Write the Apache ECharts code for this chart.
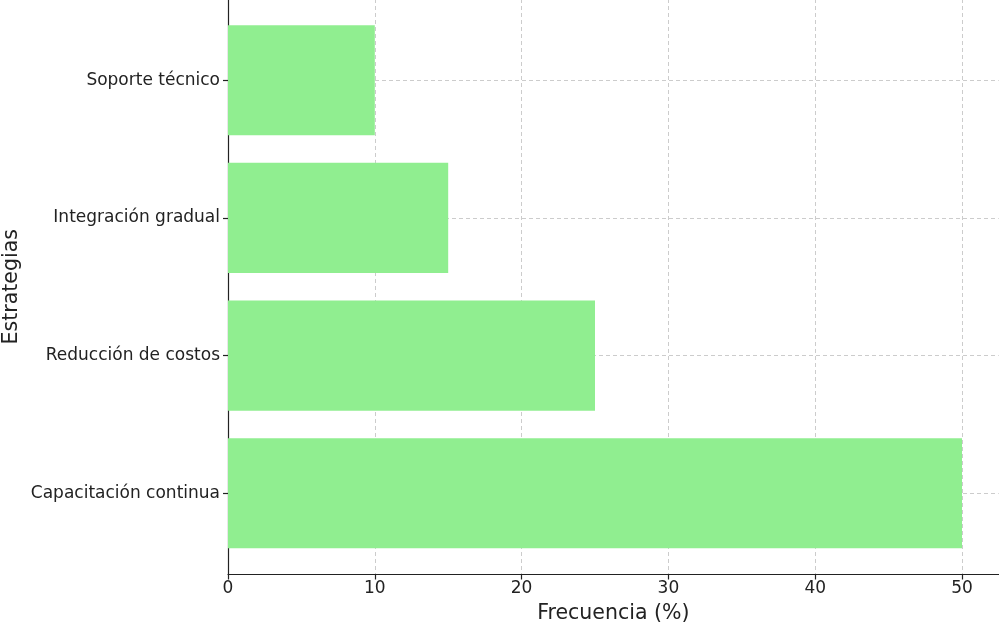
<!DOCTYPE html>
<html>
<head>
<meta charset="utf-8">
<script src="https://cdn.jsdelivr.net/npm/echarts@6/dist/echarts.min.js"></script>
<style>html,body{margin:0;padding:0;background:#fff;}#c{width:999px;height:626px;}</style>
</head>
<body>
<div id="c"></div>
<script>
const categories = ['Capacitación continua', 'Reducción de costos', 'Integración gradual', 'Soporte técnico'];
const values = [50, 25, 15, 10];
const xTicks = [0, 10, 20, 30, 40, 50];
const xAxisTitle = 'Frecuencia (%)';
const yAxisTitle = 'Estrategias';

const positions = categories.map((_, i) => i);
const data = values.map((v, i) => [v, i]);
const font = 'DejaVu Sans';
const chart = echarts.init(document.getElementById('c'), null, {renderer: 'canvas'});
chart.setOption({
  animation: false,
  backgroundColor: '#fff',
  grid: {left: 228, right: 0.3, top: -1, bottom: 51.5, containLabel: false, outerBoundsMode: 'none'},
  xAxis: {
    type: 'value', min: 0, max: 52.5, interval: 10,
    name: xAxisTitle, nameLocation: 'middle', nameGap: 29, nameMoveOverlap: false,
    nameTextStyle: {fontFamily: font, fontSize: 20.5, color: '#222'},
    axisLine: {show: true, onZero: false, lineStyle: {color: '#222', width: 1.2}},
    axisTick: {show: true, customValues: xTicks, length: 5, lineStyle: {color: '#222', width: 1.2}},
    axisLabel: {customValues: xTicks, fontFamily: font, fontSize: 17, color: '#222', margin: 6},
    splitLine: {show: true, lineStyle: {color: '#cccccc', type: [4, 3], width: 1}}
  },
  yAxis: {
    type: 'value', min: -0.59, max: 3.59,
    name: yAxisTitle, nameLocation: 'middle', nameGap: 206, nameMoveOverlap: false,
    nameTextStyle: {fontFamily: font, fontSize: 20.5, color: '#222'},
    axisLine: {show: true, onZero: false, lineStyle: {color: '#222', width: 1.2}},
    axisTick: {show: true, customValues: positions, length: 5, lineStyle: {color: '#222', width: 1.2}},
    axisLabel: {customValues: positions, fontFamily: font, fontSize: 17, color: '#222', margin: 8,
      formatter: v => categories[Math.round(v)]},
    splitLine: {show: true, lineStyle: {color: '#cccccc', type: [4, 3], width: 1}}
  },
  series: [{
    type: 'custom',
    data: data,
    encode: {x: 0, y: 1},
    renderItem: function (params, api) {
      const v = api.value(0), i = api.value(1);
      const p0 = api.coord([0, i + 0.4]);
      const p1 = api.coord([v, i - 0.4]);
      return {type: 'rect', shape: {x: p0[0], y: p0[1], width: p1[0] - p0[0], height: p1[1] - p0[1]},
        style: {fill: '#90EE90'}};
    }
  }]
});
</script>
</body>
</html>
